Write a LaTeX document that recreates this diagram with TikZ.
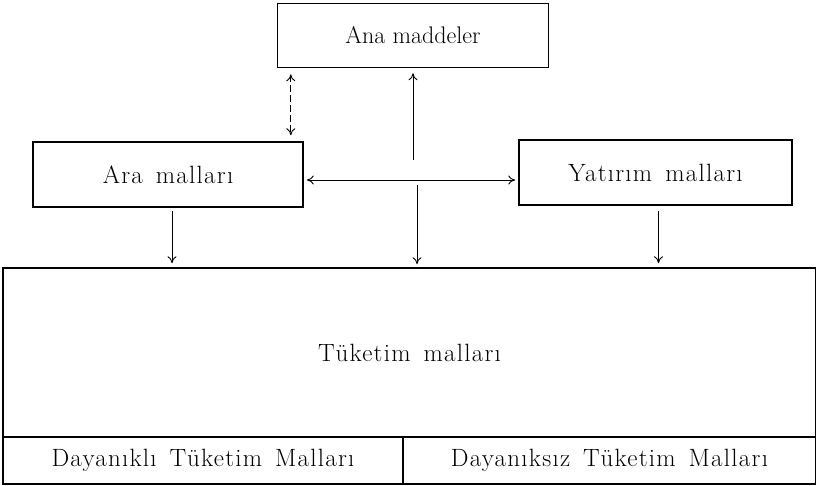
\documentclass[tikz,border=0pt]{standalone}
\usepackage{fontspec}
\newfontfamily\lmwide[LetterSpace=5]{Latin Modern Roman}
\newcommand\widewords{\spaceskip=13pt plus 2pt\relax}
\usetikzlibrary{arrows.meta}
\begin{document}
\begin{tikzpicture}[x=1pt,y=-1pt,
  box/.style={draw,line width=1.6pt,inner sep=0pt,font=\lmwide\fontsize{25}{30}\selectfont\widewords},
  arr/.style={-{To[length=7pt,width=9pt]},line width=0.9pt},
  darr/.style={{To[length=7pt,width=9pt]}-{To[length=7pt,width=9pt]},line width=0.9pt}]
\useasboundingbox (0,0) rectangle (816,486);
\node[box,minimum width=271,minimum height=64,font=\fontsize{24}{28}\selectfont] (ana) at (413,35.5) {Ana maddeler};
\node[box,minimum width=270,minimum height=65] (ara) at (168,174.5) {Ara malları};
\node[box,minimum width=273,minimum height=65] (yat) at (655.5,172.5) {Yatırım malları};
\node[box,minimum width=813,minimum height=169] (tuk) at (409.5,352.5) {Tüketim malları};
\node[box,minimum width=400,minimum height=47] (dur) at (203,460.5) {Dayanıklı Tüketim Malları};
\node[box,minimum width=413,minimum height=47] (ndur) at (609.5,460.5) {Dayanıksız Tüketim Malları};
\coordinate (hub) at (415,180);
% double arrow Ana - Ara
\draw[darr,dash pattern=on 7pt off 3pt,shorten <=6pt,shorten >=6pt]
  ([xshift=-13pt]ara.north east |- ana.south) -- ([xshift=-13pt]ara.north east);
% up arrow to Ana
\draw[arr,shorten >=5pt] ([xshift=-2pt,yshift=20pt]hub) -- ([xshift=-2pt]hub |- ana.south);
% horizontal double arrow
\draw[darr,shorten <=3pt,shorten >=3pt] (ara.east |- hub) -- (yat.west |- hub);
% down arrows
\draw[arr,shorten >=3pt] ([xshift=2pt,yshift=-5pt]hub) -- ([xshift=2pt]hub |- tuk.north);
\draw[arr,shorten <=3pt,shorten >=4pt] ([xshift=4pt]ara.south) -- ([xshift=4pt]ara.south |- tuk.north);
\draw[arr,shorten <=5pt,shorten >=4pt] ([xshift=3pt]yat.south) -- ([xshift=3pt]yat.south |- tuk.north);
\end{tikzpicture}
\end{document}
